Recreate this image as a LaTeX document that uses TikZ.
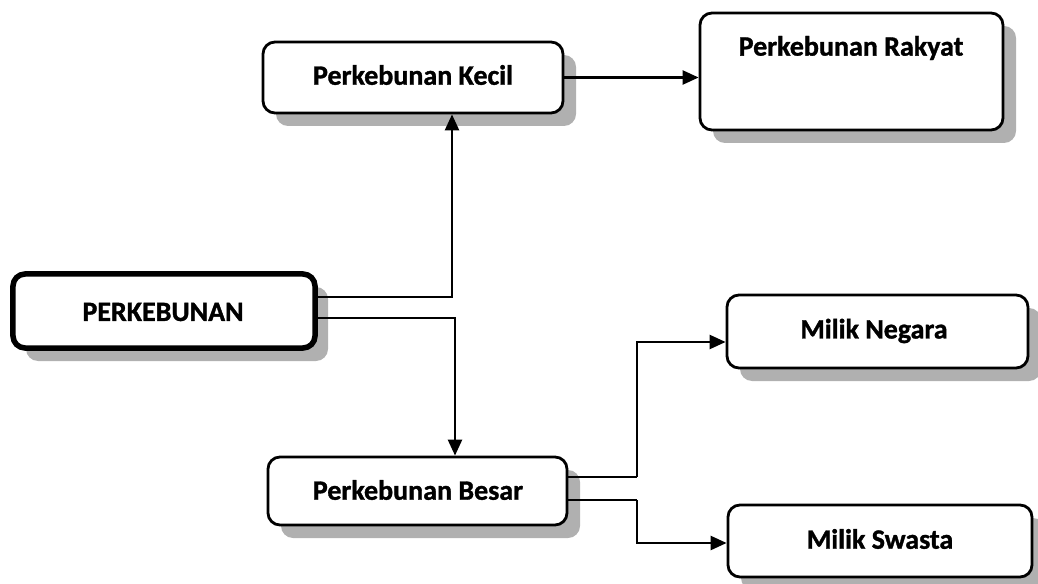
\documentclass[tikz,border=0pt]{standalone}
\usepackage{fontspec}
\setmainfont{Carlito}[BoldFeatures={FakeBold=1.2}]
\usetikzlibrary{arrows.meta,shadows}
\tikzset{
  box/.style={draw=black, line width=2.8bp, rounded corners=12bp, fill=white,
    drop shadow={shadow xshift=13bp, shadow yshift=-13bp, fill=gray!62, opacity=1},
    inner sep=0pt},
  mainbox/.style={box, line width=5.5bp},
  lbl/.style={font=\fontsize{28bp}{32bp}\selectfont\bfseries, inner sep=0pt},
  arr/.style={draw=black, line width=2.5bp, -{Triangle[length=16bp,width=14bp]}},
  ln/.style={draw=black, line width=2.5bp}
}
\begin{document}
\begin{tikzpicture}[x=1bp,y=-1bp]
\useasboundingbox (0,0) rectangle (1038,584);
% boxes
\node[mainbox, minimum width=302bp, minimum height=74bp] (perk) at (164,311) {};
\node[lbl] (perkt) at (163,312) {PERKEBUNAN};
\node[box, minimum width=300bp, minimum height=71bp] (kecil) at (413,77.5) {};
\node[lbl] (kecilt) at (413,75) {Perkebunan Kecil};
\node[box, minimum width=303bp, minimum height=117bp] (rakyat) at (851.5,71.5) {};
\node[lbl] (rakyatt) at (851,48) {Perkebunan Rakyat};
\node[box, minimum width=299bp, minimum height=68bp] (besar) at (417.5,491) {};
\node[lbl] (besart) at (418,490) {Perkebunan Besar};
\node[box, minimum width=301bp, minimum height=73bp] (negara) at (877.5,331.5) {};
\node[lbl] (negarat) at (874,331) {Milik Negara};
\node[box, minimum width=304bp, minimum height=72bp] (swasta) at (880,541) {};
\node[lbl] (swastat) at (880,539) {Milik Swasta};
% junctions
\coordinate (j1) at (637,477);
\coordinate (j2) at (637,500);
% connectors
\draw[arr] (perk.east |- {(0,297)}) -| ([xshift=39bp]kecil.south);
\draw[arr] (perk.east |- {(0,318)}) -| ([xshift=37.5bp]besar.north);
\draw[arr] (kecil.east) -- (rakyat.west |- kecil.east);
\draw[ln] (besar.east |- j1) -- (j1);
\draw[arr] (j1) |- ([yshift=-10.5bp]negara.west);
\draw[ln] (besar.east |- j2) -- (j2);
\draw[arr] (j2) |- ([yshift=-2bp]swasta.west);
\end{tikzpicture}
\end{document}
